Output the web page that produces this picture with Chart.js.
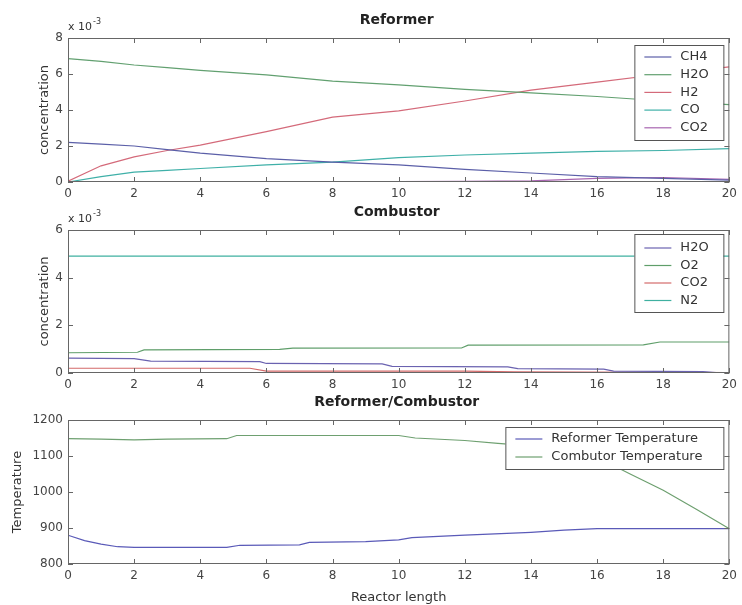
<!DOCTYPE html>
<html>
<head>
<meta charset="utf-8">
<script src="https://cdn.jsdelivr.net/npm/chart.js@4.4.0/dist/chart.umd.min.js"></script>
<style>
    body { margin: 0; background: #fff; }
    #wrap { position: relative; width: 742px; height: 605px; }
    .panel { position: absolute; left: 0; width: 742px; }
</style>
</head>
<body>
<div id="wrap">
    <div class="panel" style="top:0;height:200px"><canvas id="reformerChart"></canvas></div>
    <div class="panel" style="top:200px;height:192px"><canvas id="combustorChart"></canvas></div>
    <div class="panel" style="top:392px;height:213px"><canvas id="tempChart"></canvas></div>
</div>
<script>
// reformer concentrations (x 10^-3)
const reformerX = [0, 1, 2, 3, 4, 6, 8, 10, 12, 14, 16, 18, 20];
const reformerCH4 = [2.2, 2.1, 2.0, 1.8, 1.6, 1.3, 1.1, 0.95, 0.7, 0.5, 0.3, 0.2, 0.1];
const reformerH2O = [6.85, 6.7, 6.5, 6.35, 6.2, 5.95, 5.6, 5.4, 5.15, 4.95, 4.75, 4.5, 4.3];
const reformerH2 = [0.05, 0.9, 1.4, 1.75, 2.05, 2.8, 3.6, 3.95, 4.5, 5.1, 5.55, 6.0, 6.4];
const reformerCO = [0.0, 0.3, 0.55, 0.65, 0.75, 0.95, 1.1, 1.35, 1.5, 1.6, 1.7, 1.75, 1.85];
const reformerCO2 = [0.0, 0.0, 0.0, 0.0, 0.0, 0.0, 0.0, 0.02, 0.04, 0.06, 0.2, 0.25, 0.15];

// combustor concentrations (x 10^-3)
const combH2OX = [0, 2.0, 2.5, 5.8, 6.0, 9.5, 9.8, 13.3, 13.6, 16.2, 16.5, 19.2, 19.6, 20];
const combH2O = [0.62, 0.6, 0.5, 0.48, 0.4, 0.38, 0.28, 0.26, 0.18, 0.16, 0.08, 0.06, 0.02, 0.0];
const combO2X = [0, 2.1, 2.3, 6.4, 6.8, 11.9, 12.1, 17.4, 17.9, 20];
const combO2 = [0.85, 0.87, 0.97, 0.99, 1.04, 1.05, 1.17, 1.18, 1.3, 1.3];
const combCO2X = [0, 5.5, 6.0, 12, 13.5, 20];
const combCO2 = [0.2, 0.2, 0.08, 0.08, 0.05, 0.02];
const combN2X = [0, 5, 10, 15, 20];
const combN2 = [4.9, 4.9, 4.9, 4.9, 4.9];

// temperatures
const reformerTempX = [0, 0.5, 1, 1.5, 2, 4.8, 5.2, 7, 7.3, 9, 10, 10.4, 12, 14, 15, 16, 20];
const reformerTemp = [880, 865, 855, 848, 846, 846, 852, 853, 860, 862, 867, 873, 880, 888, 894, 898, 898];
const combustorTempX = [0, 1, 2, 3, 4.8, 5.1, 10, 10.5, 12, 13, 14, 15, 16, 16.7, 17, 18, 19, 20];
const combustorTemp = [1148, 1147, 1145, 1147, 1148, 1157, 1157, 1150, 1143, 1135, 1128, 1110, 1090, 1064, 1050, 1005, 952, 898];

const xTicks = [0, 2, 4, 6, 8, 10, 12, 14, 16, 18, 20];

const FONT = "'DejaVu Sans', sans-serif";

function toPoints(xs, ys) {
    return xs.map((x, i) => ({ x: x, y: ys[i] }));
}

function line(label, xs, ys, color) {
    return {
        label: label,
        data: toPoints(xs, ys),
        borderColor: color,
        backgroundColor: color,
        borderWidth: 1.2,
        pointRadius: 0,
        tension: 0,
        fill: false
    };
}

const matlabAxes = {
    id: 'matlabAxes',
    afterDraw(chart, args, opts) {
        const ctx = chart.ctx;
        const area = chart.chartArea;
        const xScale = chart.scales.x;
        const yScale = chart.scales.y;
        ctx.save();

        // box and inward ticks
        ctx.strokeStyle = '#666';
        ctx.lineWidth = 1;
        ctx.strokeRect(area.left + 0.5, area.top + 0.5, area.right - area.left - 1, area.bottom - area.top - 1);
        ctx.beginPath();
        xScale.ticks.forEach(t => {
            const px = Math.round(xScale.getPixelForValue(t.value)) + 0.5;
            ctx.moveTo(px, area.bottom);
            ctx.lineTo(px, area.bottom - 5);
            ctx.moveTo(px, area.top);
            ctx.lineTo(px, area.top + 5);
        });
        yScale.ticks.forEach(t => {
            const py = Math.round(yScale.getPixelForValue(t.value)) + 0.5;
            ctx.moveTo(area.left, py);
            ctx.lineTo(area.left + 5, py);
            ctx.moveTo(area.right, py);
            ctx.lineTo(area.right - 5, py);
        });
        ctx.stroke();

        // title
        ctx.fillStyle = '#222';
        ctx.font = 'bold 14px ' + FONT;
        ctx.textAlign = 'center';
        ctx.textBaseline = 'middle';
        ctx.fillText(opts.title, (area.left + area.right) / 2 - 2, area.top - 18);

        // y label
        ctx.fillStyle = '#333';
        ctx.font = '13px ' + FONT;
        ctx.save();
        ctx.translate(opts.yLabelX, (area.top + area.bottom) / 2);
        ctx.rotate(-Math.PI / 2);
        ctx.fillText(opts.yLabel, 0, 0);
        ctx.restore();

        // x label
        if (opts.xLabel) {
            ctx.fillText(opts.xLabel, (area.left + area.right) / 2, area.bottom + 34);
        }

        // exponent
        if (opts.exponent) {
            ctx.textAlign = 'left';
            ctx.textBaseline = 'alphabetic';
            ctx.font = '11px ' + FONT;
            ctx.fillText('x 10', area.left, area.top - 8);
            const w = ctx.measureText('x 10').width;
            ctx.font = '8px ' + FONT;
            ctx.fillText(opts.exponent, area.left + w + 1, area.top - 14);
        }

        // legend
        const lg = opts.legend;
        const bx = area.right - 6 - lg.width;
        const by = area.top + lg.offsetTop;
        ctx.fillStyle = '#fff';
        ctx.fillRect(bx, by, lg.width, lg.height);
        ctx.strokeStyle = '#555';
        ctx.strokeRect(bx + 0.5, by + 0.5, lg.width, lg.height);
        ctx.font = '13px ' + FONT;
        ctx.textAlign = 'left';
        ctx.textBaseline = 'middle';
        chart.data.datasets.forEach((ds, i) => {
            const ry = by + lg.firstRow + i * lg.rowHeight;
            ctx.strokeStyle = ds.borderColor;
            ctx.lineWidth = 1.2;
            ctx.beginPath();
            ctx.moveTo(bx + 10, ry);
            ctx.lineTo(bx + 37, ry);
            ctx.stroke();
            ctx.fillStyle = '#333';
            ctx.fillText(ds.label, bx + 46, ry);
        });
        ctx.restore();
    }
};

function makeChart(canvasId, datasets, yMin, yMax, yStep, padTop, xAxisHeight, texts) {
    const ctx = document.getElementById(canvasId).getContext('2d');
    return new Chart(ctx, {
        type: 'line',
        data: { datasets: datasets },
        options: {
            responsive: true,
            maintainAspectRatio: false,
            animation: false,
            layout: { padding: { top: padTop, right: 9, left: 0, bottom: 0 } },
            plugins: {
                legend: { display: false },
                tooltip: { enabled: false },
                matlabAxes: texts
            },
            scales: {
                x: {
                    type: 'linear',
                    min: 0,
                    max: 20,
                    afterBuildTicks: function (scale) {
                        scale.ticks = xTicks.map(v => ({ value: v }));
                    },
                    afterFit: function (scale) { scale.height = xAxisHeight; },
                    grid: { display: false, drawTicks: false },
                    border: { display: false },
                    ticks: {
                        maxRotation: 0,
                        padding: 5,
                        color: '#444',
                        font: { family: FONT, size: 12 },
                        callback: function (value) { return String(value); }
                    }
                },
                y: {
                    min: yMin,
                    max: yMax,
                    afterFit: function (scale) { scale.width = 68; },
                    grid: { display: false, drawTicks: false },
                    border: { display: false },
                    ticks: {
                        stepSize: yStep,
                        padding: 5,
                        color: '#444',
                        font: { family: FONT, size: 12 },
                        callback: function (value) { return String(value); }
                    }
                }
            }
        },
        plugins: [matlabAxes]
    });
}

makeChart('reformerChart', [
    line('CH4', reformerX, reformerCH4, '#5b5fa8'),
    line('H2O', reformerX, reformerH2O, '#62a070'),
    line('H2', reformerX, reformerH2, '#d46a7a'),
    line('CO', reformerX, reformerCO, '#3fb0a8'),
    line('CO2', reformerX, reformerCO2, '#a865b0')
], 0, 8, 2, 38, 18, {
    title: 'Reformer',
    yLabel: 'concentration',
    yLabelX: 45,
    exponent: '-3',
    legend: { width: 89, height: 95, offsetTop: 7, firstRow: 12, rowHeight: 17.7 }
});

makeChart('combustorChart', [
    line('H2O', combH2OX, combH2O, '#6a62b0'),
    line('O2', combO2X, combO2, '#5f9e6a'),
    line('CO2', combCO2X, combCO2, '#d46a6a'),
    line('N2', combN2X, combN2, '#3fb0a0')
], 0, 6, 2, 30, 19, {
    title: 'Combustor',
    yLabel: 'concentration',
    yLabelX: 45,
    exponent: '-3',
    legend: { width: 89, height: 78, offsetTop: 4, firstRow: 14, rowHeight: 17.5 }
});

makeChart('tempChart', [
    line('Reformer Temperature', reformerTempX, reformerTemp, '#5a5ab8'),
    line('Combutor Temperature', combustorTempX, combustorTemp, '#6ea070')
], 800, 1200, 100, 28, 41, {
    title: 'Reformer/Combustor',
    yLabel: 'Temperature',
    yLabelX: 18,
    xLabel: 'Reactor length',
    legend: { width: 218, height: 42, offsetTop: 7, firstRow: 12, rowHeight: 18 }
});
</script>
</body>
</html>
